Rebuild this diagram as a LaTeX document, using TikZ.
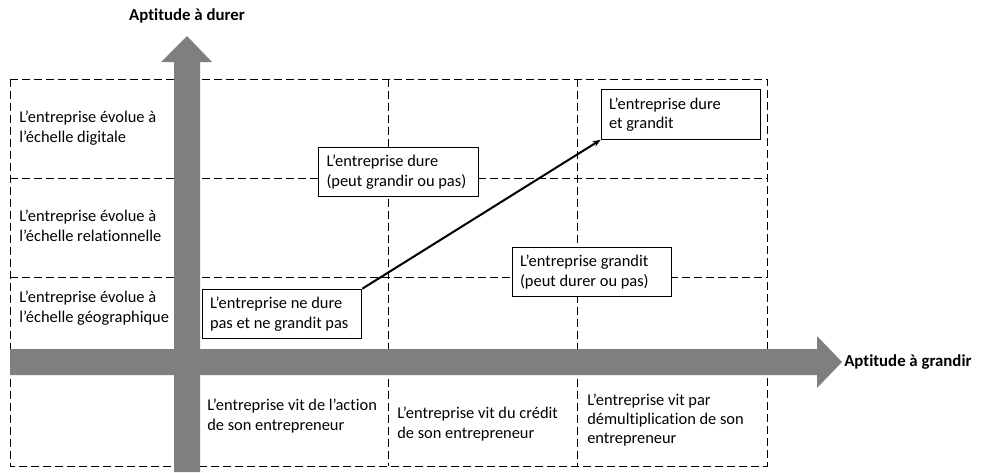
\documentclass[tikz,border=0pt]{standalone}
\usepackage{fontspec}
\setmainfont{Carlito}[Ligatures=NoCommon]
\usetikzlibrary{arrows.meta,positioning}
\definecolor{axisgray}{RGB}{127,127,127}

\begin{document}
\begin{tikzpicture}[x=0.75pt, y=-0.75pt, >={Stealth[length=6pt,width=4.5pt]},
  grille/.style={dash pattern=on 6pt off 3pt, line width=0.75pt},
  axe/.style={fill=axisgray, draw=none},
  cellule/.style={anchor=west, align=left, inner sep=0pt, font=\fontsize{12.3}{14.6}\selectfont},
  etat/.style={draw, fill=white, line width=0.9pt, text width=108pt, inner xsep=5.75pt,
    minimum height=37pt, align=flush left, font=\fontsize{12.3}{14.6}\selectfont},
  titre/.style={font=\fontsize{12.6}{14}\selectfont\bfseries, inner sep=0pt}]
  \useasboundingbox (0,0) rectangle (982,472);
  % grille en pointilles
  \draw[grille] (10,79) rectangle (767,466);
  \draw[grille] (10,178) -- (767,178) (10,277) -- (767,277);
  \draw[grille] (388,79) -- (388,466) (577,79) -- (577,466);
  % les deux axes (fleches pleines)
  \fill[axe] (174,472) -- (174,62) -- (161,62) -- (187,36) -- (212,62) -- (200,62) -- (200,472) -- cycle;
  \fill[axe] (10,349) -- (817,349) -- (817,336) -- (842,362) -- (817,388) -- (817,375) -- (10,375) -- cycle;
  \node[titre] (durer) at (187,16) {Aptitude à durer};
  \node[titre, anchor=west] (grandir) at (844,362) {Aptitude à grandir};
  % echelles (colonne de gauche)
  \node[cellule] (digital) at (19,128) {L’entreprise évolue à\\l’échelle digitale};
  \node[cellule] (relation) at (19,226) {L’entreprise évolue à\\l’échelle relationnelle};
  \node[cellule] (geo) at (19,308) {L’entreprise évolue à\\l’échelle géographique};
  % modes de vie (ligne du bas)
  \node[cellule] (action) at (207,416) {L’entreprise vit de l’action\\de son entrepreneur};
  \node[cellule] (credit) at (397,424) {L’entreprise vit du crédit\\de son entrepreneur};
  \node[cellule] (demult) at (587,420) {L’entreprise vit par\\démultiplication de son\\entrepreneur};
  % etats de l'entreprise
  \node[etat] (pas) at (282,314) {L’entreprise ne dure\\pas et ne grandit pas};
  \node[etat] (dure) at (398.5,172) {L’entreprise dure\\(peut grandir ou pas)};
  \node[etat] (grandit) at (592,272) {L’entreprise grandit\\(peut durer ou pas)};
  \node[etat] (durgr) at (681,114.5) {L’entreprise dure\\et grandit};
  \draw[->, line width=1.5pt] (pas.north east) -- (durgr.south west);
\end{tikzpicture}
\end{document}
